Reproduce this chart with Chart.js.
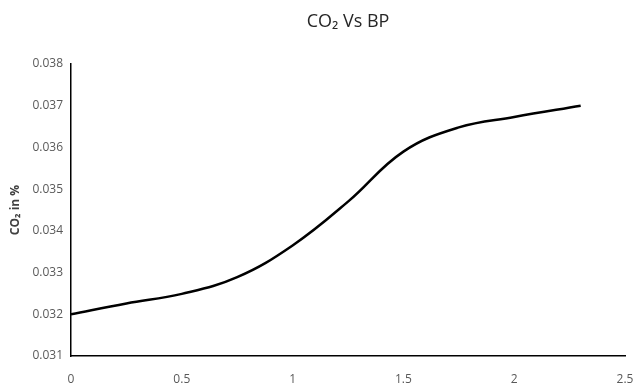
<!DOCTYPE html>
<html>
<head>
<meta charset="utf-8">
<script src="https://cdn.jsdelivr.net/npm/chart.js@4"></script>
<style>
  html, body { margin: 0; padding: 0; background: #fff; }
  #grafico { display: block; }
</style>
</head>
<body>
<canvas id="grafico" width="639" height="392"></canvas>
<script>
// valores
const bpValores = [0, 0.25, 0.5, 0.75, 1.0, 1.25, 1.5, 1.75, 2.0, 2.3];
const co2Valores = [0.0320, 0.03226, 0.03249, 0.03289, 0.03365, 0.03470, 0.03590, 0.03648, 0.03673, 0.0370];

const tituloGrafico = "CO\u2082 Vs BP";
const tituloEjeY = "CO\u2082 in %";

const fuente = "'Open Sans', 'Noto Sans', sans-serif";

// titulo centrado sobre el area del grafico (como en Excel)
const tituloPlugin = {
  id: "tituloArea",
  afterDraw(chart) {
    const ctx = chart.ctx;
    const area = chart.chartArea;
    ctx.save();
    ctx.fillStyle = "#262626";
    ctx.font = "18px " + fuente;
    ctx.textAlign = "center";
    ctx.textBaseline = "middle";
    ctx.fillText(tituloGrafico, (area.left + area.right) / 2, 22);
    ctx.restore();
  }
};

new Chart(document.getElementById("grafico").getContext("2d"), {
  type: "line",
  data: {
    datasets: [{
      data: bpValores.map((x, i) => ({ x: x, y: co2Valores[i] })),
      borderColor: "#000",
      borderWidth: 2.5,
      pointRadius: 0,
      tension: 0.4,
      fill: false
    }]
  },
  options: {
    responsive: false,
    animation: false,
    layout: { padding: { top: 64, right: 14, left: 8, bottom: 0 } },
    plugins: {
      legend: { display: false },
      tooltip: { enabled: false }
    },
    scales: {
      x: {
        type: "linear",
        min: 0,
        max: 2.5,
        grid: { display: false, drawTicks: false },
        border: { display: true, color: "#000", width: 1.5 },
        ticks: {
          stepSize: 0.5,
          color: "#595959",
          padding: 16,
          font: { family: fuente, size: 12 },
          callback: v => String(v)
        },
        afterFit(scale) {
          scale.height = 36;
          scale.paddingLeft = 0;
          scale.paddingRight = 0;
        }
      },
      y: {
        min: 0.031,
        max: 0.038,
        grid: { display: false, drawTicks: false },
        border: { display: true, color: "#000", width: 1.5 },
        ticks: {
          stepSize: 0.001,
          color: "#595959",
          padding: 8,
          font: { family: fuente, size: 12 },
          callback: v => v.toFixed(3)
        },
        title: {
          display: true,
          text: tituloEjeY,
          color: "#404040",
          padding: 0,
          font: { family: fuente, size: 12, weight: "bold" }
        },
        afterFit(scale) { scale.width = 63; }
      }
    }
  },
  plugins: [tituloPlugin]
});
</script>
</body>
</html>
